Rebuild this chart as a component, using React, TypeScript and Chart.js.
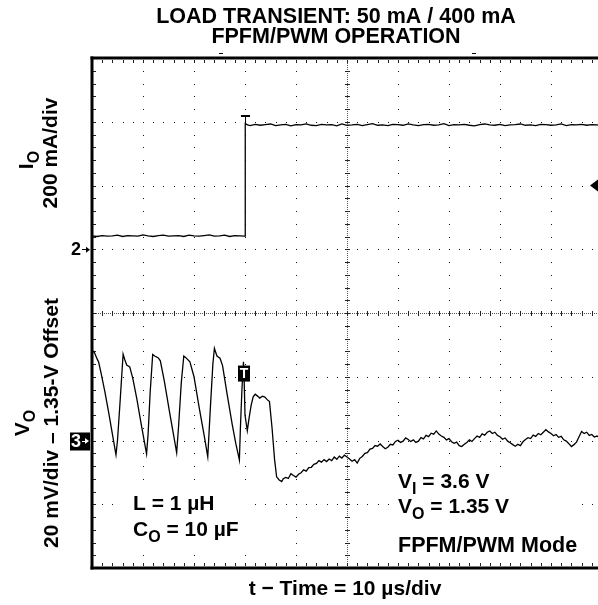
import React, { useEffect, useRef } from "react";
import { Chart, registerables } from "chart.js";

Chart.register(...registerables);

const FONT = '"Liberation Sans", Arial, Helvetica, sans-serif';

const TITLE_LINES = ["LOAD TRANSIENT: 50 mA / 400 mA", "FPFM/PWM OPERATION"];
const X_LABEL = "t \u2212 Time = 10 \u00b5s/div";

// Screen divisions: 10 us/div horizontally, 200 mA/div (ch2) and 20 mV/div (ch3) vertically
const X_DIVS = [0, 10, 20, 30, 40, 50, 60, 70, 80, 90, 100];
const I_DIVS = [-1000, -800, -600, -400, -200, 0, 200, 400, 600];
const V_RANGE = [-40, 120];
const TRIGGER_TIME = 30;
const TRIGGER_LEVEL_MA = 200;

// I_O trace (mA) vs time (us)
const ioTime = [
  0, 1, 2, 3, 4, 5, 6, 7, 8, 9,
  10, 11, 12, 13, 14, 15, 16, 17, 18, 19,
  20, 21, 22, 23, 24, 25, 26, 27, 28, 29,
  29.9, 30, 30.05, 30.5,
  31, 32, 33, 34, 35, 36, 37, 38, 39, 40,
  41, 42, 43, 44, 45, 46, 47, 48, 49, 50,
  51, 52, 53, 54, 55, 56, 57, 58, 59, 60,
  61, 62, 63, 64, 65, 66, 67, 68, 69, 70,
  71, 72, 73, 74, 75, 76, 77, 78, 79, 80,
  81, 82, 83, 84, 85, 86, 87, 88, 89, 90,
  91, 92, 93, 94, 95, 96, 97, 98, 99, 100,
];
const ioCurrent = [
  42, 40, 43, 41, 42, 44, 40, 43, 42, 41,
  45, 42, 40, 43, 44, 41, 42, 43, 40, 44,
  42, 41, 43, 45, 41, 42, 44, 40, 43, 42,
  41, 41, 394, 390,
  388, 392, 389, 391, 393, 388, 390, 392, 387, 391,
  390, 393, 389, 388, 392, 390, 391, 387, 393, 389,
  390, 392, 388, 391, 394, 389, 390, 388, 392, 391,
  389, 393, 390, 388, 391, 392, 389, 390, 394, 388,
  391, 390, 392, 389, 387, 391, 393, 390, 389, 392,
  388, 390, 391, 393, 389, 390, 388, 392, 391, 389,
  390, 393, 388, 391, 390, 392, 389, 391, 390, 388,
];

// V_O trace (mV deviation from 1.35 V) vs time (us)
const voTime = [
  0, 0.5, 1.0, 1.3, 1.8, 2.5, 3.3, 4.0, 4.7, 5.0,
  5.5, 6.1, 6.4, 6.8, 7.4, 8.0, 8.8, 9.6, 10.7, 11.0,
  11.4, 11.9, 12.3, 13.0, 13.4, 14.2, 15.2, 16.6, 17.0, 17.5,
  18.0, 18.4, 19.2, 20.0, 21.0, 22.0, 22.7, 23.2, 23.7, 24.0,
  24.5, 25.1, 25.6, 26.5, 27.5, 28.2, 28.9, 29.1, 29.4, 29.7,
  29.85, 30.0, 30.45, 30.8, 31.2, 31.6, 32.0, 32.4, 32.9, 33.4,
  33.9, 34.3, 34.8, 35.3, 35.8, 36.2, 36.7, 37.2,
  37.5, 38, 38.5, 39, 39.5, 40, 40.5, 41, 41.5, 42,
  42.5, 43, 43.5, 44, 44.5, 45, 45.5, 46, 46.5, 47,
  47.5, 48, 48.5, 49, 49.5, 50, 50.5, 51, 51.5, 52,
  52.5, 53, 53.5, 54, 54.5, 55, 55.5, 56, 56.5, 57,
  57.5, 58, 58.5, 59, 59.5, 60, 60.5, 61, 61.5, 62,
  62.5, 63, 63.5, 64, 64.5, 65, 65.5, 66, 66.5, 67,
  67.5, 68, 68.5, 69, 69.5, 70, 70.5, 71, 71.5, 72,
  72.5, 73, 73.5, 74, 74.5, 75, 75.5, 76, 76.5, 77,
  77.5, 78, 78.5, 79, 79.5, 80, 80.5, 81, 81.5, 82,
  82.5, 83, 83.5, 84, 84.5, 85, 85.5, 86, 86.5, 87,
  87.5, 88, 88.5, 89, 89.5, 90, 90.5, 91, 91.5, 92,
  92.5, 93, 93.5, 94, 94.5, 95, 95.5, 96, 96.5, 97,
  97.5, 98, 98.5, 99, 99.5, 100,
];
const voVoltage = [
  28.4, 27.5, 25.6, 24.6, 21.0, 15.5, 8.5, 2.0, -4.5, 0,
  12, 27.1, 25.5, 23.7, 23.1, 19.5, 13.0, 5.5, -4.2, 2,
  15, 27.0, 26.5, 25.9, 25.0, 18.5, 9.0, -3.8, 5, 18,
  26.5, 26.0, 24.7, 20.0, 10.5, 1.5, -5.1, 10, 24, 28.9,
  26.5, 25.8, 23.5, 14.5, 5, -1, -6.1, 4, 16, 24.7,
  18, 8, 3.1, 7, 11, 13.7, 14.5, 14.0, 13.3, 13.9,
  13.6, 12.9, 12.2, 4, -6, -11.4, -12.4, -12.9,
  -12.0, -11.6, -11.9, -10.4, -11.0, -11.5, -10.6, -10.1, -9.2, -9.6,
  -8.5, -8.4, -7.5, -7.2, -6.3, -6.8, -6.0, -6.6, -5.8, -6.3,
  -5.2, -5.9, -4.9, -5.5, -4.6, -5.2, -5.8, -6.5, -6.0, -7.1,
  -5.6, -5.0, -4.0, -3.8, -2.7, -2.5, -1.6, -1.8, -1.1, -1.9,
  -2.6, -2.1, -1.2, -1.4, -0.3, 0.1, -0.6, -0.2, 0.8, 0.3,
  -0.3, 0.2, -0.6, -0.2, 0.9, 0.5, 1.6, 1.2, 2.3, 2.0,
  3.0, 2.0, 1.4, 1.0, 0.2, 0.6, -0.4, -0.9, -0.5, -1.6,
  -1.9, -1.2, -0.6, 0.2, -0.3, 0.6, 1.4, 1.0, 2.1, 1.7,
  2.6, 3.0, 2.2, 2.6, 1.6, 1.2, 0.4, 0.8, -0.2, -0.7,
  -1.3, -1.8, -1.2, -1.6, -0.4, 0.3, 0.9, 0.6, 1.7, 1.3,
  2.2, 1.8, 2.6, 3.4, 2.7, 2.2, 1.5, 1.9, 1.0, 1.3,
  0.2, -0.2, -1.0, -1.9, -1.3, -0.5, 1.2, 2.8, 2.2, 2.6,
  1.6, 1.9, 1.1, 1.4, 0.9, 1.2,
];

type Part = { t: string; sub?: boolean };

function drawRich(
  ctx: CanvasRenderingContext2D,
  parts: Part[],
  x: number,
  y: number,
  size: number,
  align: "left" | "center",
  rot = 0
) {
  ctx.save();
  ctx.translate(x, y);
  if (rot) ctx.rotate(rot);
  ctx.textAlign = "left";
  ctx.textBaseline = "alphabetic";
  const subSize = Math.round(size * 0.75);
  const widths = parts.map((p) => {
    ctx.font = `bold ${p.sub ? subSize : size}px ${FONT}`;
    return ctx.measureText(p.t).width;
  });
  const total = widths.reduce((a, b) => a + b, 0);
  let cx = align === "center" ? -total / 2 : 0;
  parts.forEach((p, i) => {
    ctx.font = `bold ${p.sub ? subSize : size}px ${FONT}`;
    ctx.fillText(p.t, cx, p.sub ? size * 0.3 : 0);
    cx += widths[i];
  });
  ctx.restore();
}

const scopePlugin = {
  id: "scope",
  beforeDraw(chart: any) {
    const { ctx, width, height } = chart;
    ctx.save();
    ctx.fillStyle = "#fff";
    ctx.fillRect(0, 0, width, height);
    ctx.restore();
  },
  beforeDatasetsDraw(chart: any) {
    const { ctx, chartArea: a, scales } = chart;
    const xs = scales.x;
    const ys = scales.yI;
    const xMinor: number[] = [];
    for (let i = 0; i < X_DIVS.length - 1; i++) {
      for (let k = 0; k < 5; k++) xMinor.push(X_DIVS[i] + ((X_DIVS[i + 1] - X_DIVS[i]) * k) / 5);
    }
    xMinor.push(X_DIVS[X_DIVS.length - 1]);
    const yMinor: number[] = [];
    for (let i = 0; i < I_DIVS.length - 1; i++) {
      for (let k = 0; k < 5; k++) yMinor.push(I_DIVS[i] + ((I_DIVS[i + 1] - I_DIVS[i]) * k) / 5);
    }
    yMinor.push(I_DIVS[I_DIVS.length - 1]);
    const xc = Math.round(xs.getPixelForValue(X_DIVS[5]));
    const yc = Math.round(ys.getPixelForValue(I_DIVS[4]));

    ctx.save();
    ctx.fillStyle = "#111";
    // vertical dotted grid lines
    X_DIVS.forEach((t, i) => {
      if (i === 0 || i === X_DIVS.length - 1 || i === 5) return;
      const px = Math.round(xs.getPixelForValue(t));
      yMinor.forEach((m) => {
        const py = Math.round(ys.getPixelForValue(m));
        if (py > a.top + 2 && py < a.bottom - 2) ctx.fillRect(px, py, 1, 1);
      });
    });
    // horizontal dotted grid lines
    I_DIVS.forEach((m, i) => {
      if (i === 0 || i === I_DIVS.length - 1 || i === 4) return;
      const py = Math.round(ys.getPixelForValue(m));
      xMinor.forEach((t) => {
        const px = Math.round(xs.getPixelForValue(t));
        if (px > a.left + 2) ctx.fillRect(px, py, 1, 1);
      });
    });
    // center cross lines (dense dots + ticks)
    ctx.fillStyle = "#555";
    for (let py = a.top + 3; py < a.bottom - 2; py += 2) ctx.fillRect(xc, py, 1, 1);
    for (let px = a.left + 4; px < a.right; px += 2) ctx.fillRect(px, yc, 1, 1);
    ctx.fillStyle = "#222";
    yMinor.forEach((m) => {
      const py = Math.round(ys.getPixelForValue(m));
      if (py > a.top + 2 && py < a.bottom - 2) ctx.fillRect(xc - 2, py, 5, 1);
    });
    xMinor.forEach((t) => {
      const px = Math.round(xs.getPixelForValue(t));
      if (px > a.left + 2) ctx.fillRect(px, yc - 2, 1, 5);
    });
    // border minor ticks
    xMinor.forEach((t) => {
      const px = Math.round(xs.getPixelForValue(t));
      if (px <= a.left + 2) return;
      ctx.fillRect(px, a.top + 2, 1, 3);
      ctx.fillRect(px, a.bottom - 5, 1, 3);
    });
    yMinor.forEach((m) => {
      const py = Math.round(ys.getPixelForValue(m));
      if (py > a.top + 2 && py < a.bottom - 2) ctx.fillRect(a.left + 1, py, 3, 1);
    });
    // white annotation panels
    ctx.fillStyle = "#fff";
    ctx.fillRect(120, 480, 126, 72);
    ctx.fillRect(393, 468, 185, 90);
    ctx.restore();
  },
  afterDraw(chart: any) {
    const { ctx, chartArea: a, scales } = chart;
    const xs = scales.x;
    const yI = scales.yI;
    const yV = scales.yV;
    ctx.save();
    ctx.fillStyle = "#000";
    ctx.strokeStyle = "#000";
    // frame: left, top, bottom
    ctx.fillRect(a.left - 1.5, a.top - 1.5, 3, a.bottom - a.top + 3);
    ctx.fillRect(a.left - 1.5, a.top - 1.5, a.right - a.left + 3, 3);
    ctx.fillRect(a.left - 1.5, a.bottom - 1.5, a.right - a.left + 3, 3);

    // small marks above top border
    ctx.fillRect(Math.round(xs.getPixelForValue(25)) - 1, a.top - 5, 4, 1);
    ctx.fillRect(Math.round(xs.getPixelForValue(74.7)) - 1, a.top - 5, 4, 1);

    // trigger "T" on channel 2
    const tx = Math.round(xs.getPixelForValue(TRIGGER_TIME));
    const tTop = Math.round(yI.getPixelForValue(420));
    ctx.fillRect(tx - 4, tTop, 9, 2);
    ctx.fillRect(tx, tTop, 1, 8);

    // trigger marker box on channel 3
    const by = yV.getPixelForValue(21);
    ctx.fillRect(tx - 7, by - 8, 12, 16);
    ctx.fillStyle = "#fff";
    ctx.font = `bold 14px ${FONT}`;
    ctx.textAlign = "center";
    ctx.textBaseline = "middle";
    ctx.fillText("T", tx - 1, by + 1);
    ctx.fillStyle = "#000";

    // trigger level arrow (right edge)
    const ty = yI.getPixelForValue(TRIGGER_LEVEL_MA);
    ctx.beginPath();
    ctx.moveTo(590, ty);
    ctx.lineTo(598, ty - 6);
    ctx.lineTo(598, ty + 6);
    ctx.closePath();
    ctx.fill();

    // channel 2 ground marker
    const g2 = yI.getPixelForValue(0);
    ctx.font = `bold 18px ${FONT}`;
    ctx.textAlign = "right";
    ctx.textBaseline = "middle";
    ctx.fillText("2", 81, g2 + 1);
    ctx.fillRect(82, Math.round(g2), 6, 1);
    ctx.beginPath();
    ctx.moveTo(90, g2 + 0.5);
    ctx.lineTo(86, g2 - 2.5);
    ctx.lineTo(86, g2 + 3.5);
    ctx.closePath();
    ctx.fill();

    // channel 3 ground marker
    const g3 = yV.getPixelForValue(0);
    ctx.fillRect(70, g3 - 8, 20, 18);
    ctx.fillStyle = "#fff";
    ctx.fillText("3", 81, g3 + 2);
    ctx.fillRect(82, Math.round(g3), 5, 1);
    ctx.beginPath();
    ctx.moveTo(89, g3 + 0.5);
    ctx.lineTo(85, g3 - 2.5);
    ctx.lineTo(85, g3 + 3.5);
    ctx.closePath();
    ctx.fill();
    ctx.fillStyle = "#000";

    // title
    drawRich(ctx, [{ t: TITLE_LINES[0] }], 336, 23, 21.5, "center");
    drawRich(ctx, [{ t: TITLE_LINES[1] }], 336, 43, 21.5, "center");
    // x label
    drawRich(ctx, [{ t: X_LABEL }], 345, 595, 21, "center");

    // y labels (rotated)
    const R = -Math.PI / 2;
    drawRich(ctx, [{ t: "I" }, { t: "O", sub: true }], 33, 160, 21, "center", R);
    drawRich(ctx, [{ t: "200 mA/div" }], 57, 153, 21, "center", R);
    drawRich(ctx, [{ t: "V" }, { t: "O", sub: true }], 29, 423, 21, "center", R);
    drawRich(ctx, [{ t: "20 mV/div \u2013 1.35-V Offset" }], 58, 423, 21, "center", R);

    // annotations
    drawRich(ctx, [{ t: "L = 1 \u00b5H" }], 133, 510, 21, "left");
    drawRich(ctx, [{ t: "C" }, { t: "O", sub: true }, { t: " = 10 \u00b5F" }], 133, 536, 21, "left");
    drawRich(ctx, [{ t: "V" }, { t: "I", sub: true }, { t: " = 3.6 V" }], 398, 488, 21, "left");
    drawRich(ctx, [{ t: "V" }, { t: "O", sub: true }, { t: " = 1.35 V" }], 398, 513, 21, "left");
    drawRich(ctx, [{ t: "FPFM/PWM Mode" }], 398, 552, 21.5, "left");
    ctx.restore();
  },
};

export default function App() {
  const ref = useRef<HTMLCanvasElement | null>(null);
  useEffect(() => {
    if (!ref.current) return;
    const ioData = ioTime.map((t, i) => ({ x: t, y: ioCurrent[i] }));
    const voData = voTime.map((t, i) => ({ x: t, y: voVoltage[i] }));
    const chart = new Chart(ref.current, {
      type: "line",
      data: {
        datasets: [
          {
            label: "I_O",
            data: ioData,
            yAxisID: "yI",
            borderColor: "#000",
            borderWidth: 1.3,
            pointRadius: 0,
            tension: 0,
          },
          {
            label: "V_O",
            data: voData,
            yAxisID: "yV",
            borderColor: "#000",
            borderWidth: 1.3,
            pointRadius: 0,
            tension: 0,
          },
        ],
      },
      options: {
        animation: false,
        responsive: false,
        maintainAspectRatio: false,
        devicePixelRatio: 1,
        layout: { padding: { left: 92, top: 58, right: 8, bottom: 37 } },
        scales: {
          x: { type: "linear", min: X_DIVS[0], max: X_DIVS[X_DIVS.length - 1], display: false },
          yI: { type: "linear", min: I_DIVS[0], max: I_DIVS[I_DIVS.length - 1], display: false },
          yV: { type: "linear", min: V_RANGE[0], max: V_RANGE[1], display: false },
        },
        plugins: { legend: { display: false }, tooltip: { enabled: false }, title: { display: false } },
      },
      plugins: [scopePlugin],
    });
    return () => chart.destroy();
  }, []);
  return (
    <div
      style={{
        position: "fixed",
        left: 0,
        top: 0,
        width: 598,
        height: 605,
        overflow: "hidden",
        background: "#fff",
      }}
    >
      <canvas ref={ref} width={610} height={605} style={{ display: "block", width: 610, height: 605 }} />
    </div>
  );
}
